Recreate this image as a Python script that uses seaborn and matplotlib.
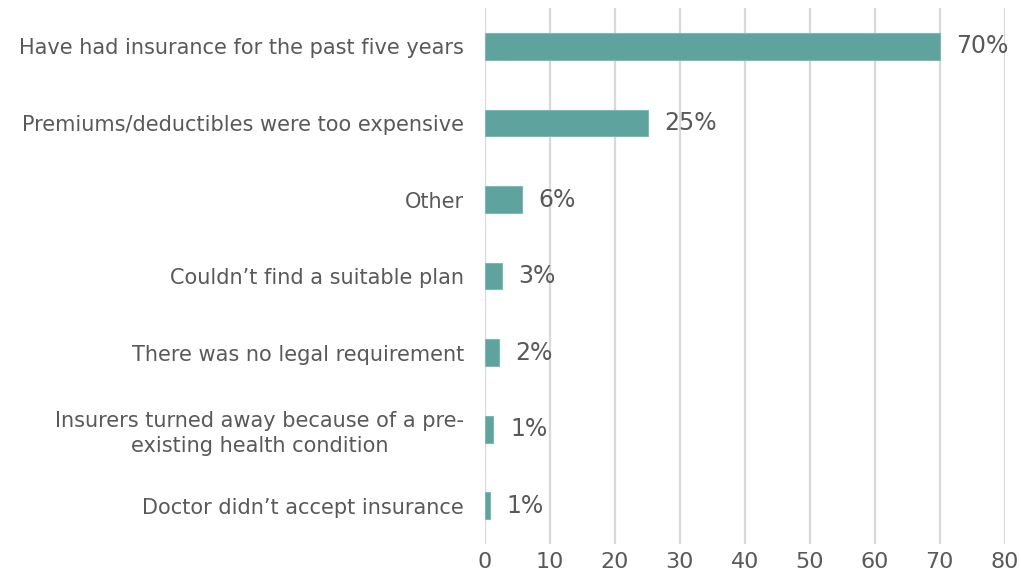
import matplotlib
matplotlib.use("Agg")
import matplotlib.pyplot as plt
import seaborn as sns
import pandas as pd

# Survey responses: reasons for (not) having health insurance
reasons = [
    "Have had insurance for the past five years",
    "Premiums/deductibles were too expensive",
    "Other",
    "Couldn\u2019t find a suitable plan",
    "There was no legal requirement",
    "Insurers turned away because of a pre-\nexisting health condition",
    "Doctor didn\u2019t accept insurance",
]
shares = [70.0, 25.1, 5.65, 2.6, 2.15, 1.3, 0.8]
x_ticks = [0, 10, 20, 30, 40, 50, 60, 70, 80]

df = pd.DataFrame({"reason": reasons, "share": shares})

sns.set_theme(style="white")
plt.rcParams["font.family"] = ["DejaVu Sans"]

text_color = "#595959"
bar_color = "#5FA39E"
grid_color = "#D9D9D9"

fig = plt.figure(figsize=(10.21, 5.88), dpi=100)
ax = fig.add_axes([0.475, 0.075, 0.509, 0.911])

sns.barplot(data=df, x="share", y="reason", orient="h", color=bar_color,
            width=0.35, saturation=1, edgecolor="#7FB8B3", linewidth=0.8,
            ax=ax, zorder=3)

ax.set_xlim(0, 80)
ax.set_xticks(x_ticks)
ax.set_xticklabels([str(t) for t in x_ticks])
ax.set_ylim(len(reasons) - 0.5, -0.5)

ax.grid(axis="x", color=grid_color, linewidth=1.6, zorder=0)
ax.grid(axis="y", visible=False)
for s in ax.spines.values():
    s.set_visible(False)

ax.tick_params(axis="x", length=0, pad=6, labelsize=16, labelcolor=text_color)
ax.tick_params(axis="y", length=0, pad=15, labelsize=15, labelcolor=text_color)
for lbl in ax.get_yticklabels():
    lbl.set_multialignment("center")
    lbl.set_linespacing(1.3)

ax.set_xlabel("")
ax.set_ylabel("")

# Value labels at the end of each bar
for i, v in enumerate(shares):
    ax.annotate(f"{v:.0f}%", xy=(v, i), xytext=(12, 0), textcoords="offset points",
                ha="left", va="center", fontsize=17, color=text_color)

fig.savefig("out.png", dpi=100)
